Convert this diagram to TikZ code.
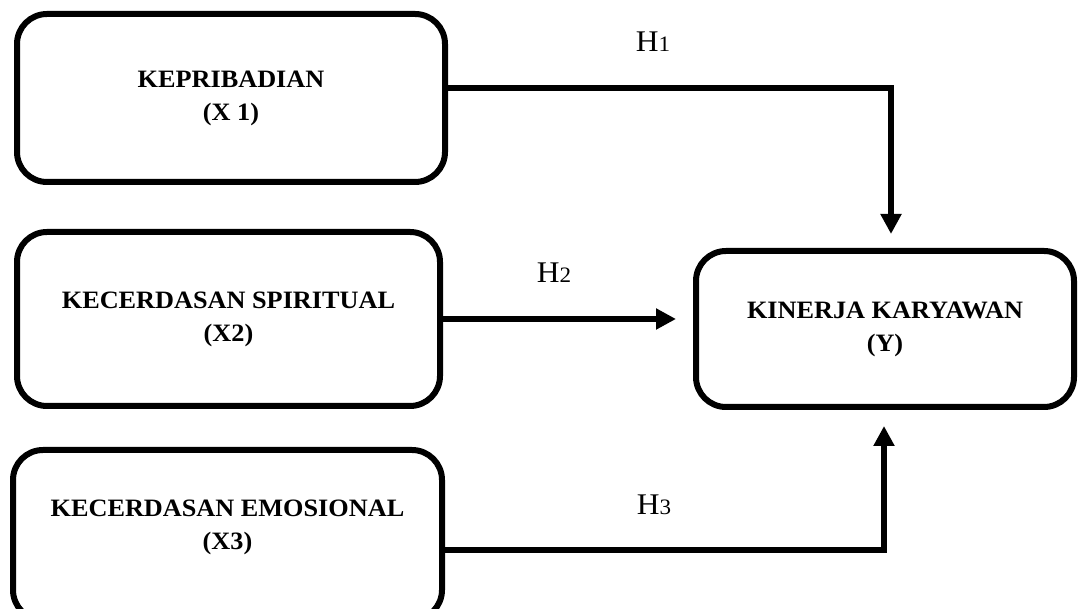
\documentclass[tikz,border=0pt]{standalone}
\usepackage{fontspec}
\setmainfont{Liberation Serif}[FakeStretch=1.05]
\usepackage{tikz}
\usetikzlibrary{arrows.meta, positioning}

\tikzset{
  vartext/.style={align=center, font=\fontsize{25}{33}\selectfont\bfseries},
  varbox/.style={vartext, draw, line width=6pt, rounded corners=30pt},
  link/.style={line width=6pt, -{Triangle[length=20pt, width=20pt]}},
  hyp/.style={font=\fontsize{30}{34}\selectfont},
}
\newcommand{\hlab}[1]{H{\fontsize{22}{26}\selectfont #1}}

\begin{document}
\begin{tikzpicture}[x=1pt, y=1pt]
  \useasboundingbox (0,0) rectangle (1078,609);
  \clip (0,0) rectangle (1078,609);
  % variables
  \node[varbox, minimum width=428pt, minimum height=168pt] (kep) at (231,511) {KEPRIBADIAN\\(X 1)};
  \node[varbox, minimum width=423pt, minimum height=174pt] (spi) at (228.5,290) {KECERDASAN SPIRITUAL\\(X2)};
  \node[varbox, minimum width=429pt, minimum height=170pt] (emo) at (227.5,74) {};
  \node[vartext] (emotext) at (227.5,82) {KECERDASAN EMOSIONAL\\(X3)};
  \node[varbox, minimum width=378pt, minimum height=156pt] (kin) at (885,280) {KINERJA KARYAWAN\\(Y)};
  % hypotheses
  \draw[link, shorten >=14pt] ([yshift=10pt]kep.east) -| ([xshift=6pt]kin.north);
  \draw[link, shorten >=17pt] (spi.east) -- (kin.west |- spi.east);
  \draw[link, shorten >=16pt] ([yshift=-15pt]emo.east) -| ([xshift=-1pt]kin.south);
  \node[hyp] (h1) at (653,567) {\hlab{1}};
  \node[hyp] (h2) at (554,336) {\hlab{2}};
  \node[hyp] (h3) at (654,104) {\hlab{3}};
\end{tikzpicture}
\end{document}
